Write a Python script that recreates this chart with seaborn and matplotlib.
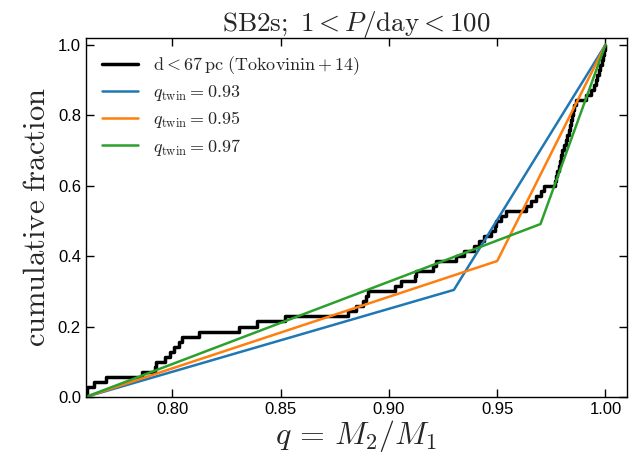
import matplotlib
matplotlib.use('Agg')
import matplotlib.pyplot as plt
import seaborn as sns

# observed mass ratios (read from the empirical CDF staircase)
q_obs = [0.7605, 0.7607, 0.7637, 0.7691, 0.7861, 0.7920, 0.7922, 0.7965, 0.7987, 0.8007,
         0.8030, 0.8045, 0.8121, 0.8309, 0.8389, 0.8519, 0.8810, 0.8846, 0.8880, 0.8892,
         0.8901, 0.9030, 0.9055, 0.9120, 0.9124, 0.9202, 0.9217, 0.9309, 0.9345, 0.9393,
         0.9416, 0.9439, 0.9470, 0.9491, 0.9494, 0.9516, 0.9539, 0.9633, 0.9654, 0.9679,
         0.9702, 0.9716, 0.9766, 0.9773, 0.9778, 0.9785, 0.9789, 0.9794, 0.9801, 0.9808,
         0.9817, 0.9824, 0.9831, 0.9838, 0.9842, 0.9847, 0.9851, 0.9856, 0.9863, 0.9908,
         0.9931, 0.9946, 0.9955, 0.9962, 0.9969, 0.9977, 0.9983, 0.9987, 0.9992, 1.0000]

# model CDFs: start, kink at q_twin, end
q_start = 0.76
q_twin = [0.93, 0.95, 0.97]
f_twin = [0.304, 0.386, 0.491]
q_end = 1.0
model_labels = [r'$q_{\rm twin} = 0.93$', r'$q_{\rm twin} = 0.95$', r'$q_{\rm twin} = 0.97$']
model_colors = ['#1f77b4', '#ff7f0e', '#2ca02c']

x_ticks = [0.80, 0.85, 0.90, 0.95, 1.00]
y_ticks = [0.0, 0.2, 0.4, 0.6, 0.8, 1.0]

sns.set_style('ticks')
plt.rcParams['font.family'] = ['Liberation Sans', 'DejaVu Sans']
plt.rcParams['mathtext.fontset'] = 'cm'

fig, ax = plt.subplots(figsize=(6.36, 4.61), dpi=100)
fig.subplots_adjust(left=0.135, right=0.986, bottom=0.139, top=0.918)

sns.ecdfplot(x=q_obs, ax=ax, color='k', lw=2.5,
             label=r'$\rm d < 67\,pc\ (Tokovinin+14)$')
for qt, ft, lab, c in zip(q_twin, f_twin, model_labels, model_colors):
    sns.lineplot(x=[q_start, qt, q_end], y=[0.0, ft, 1.0], ax=ax, color=c,
                 lw=1.8, label=lab, sort=False)

ax.set_xlim(0.76, 1.01)
ax.set_ylim(0, 1.02)
ax.set_xticks(x_ticks)
ax.set_yticks(y_ticks)
ax.tick_params(direction='in', top=True, right=True, length=6, width=1,
               labelsize=12, colors='k')
for s in ax.spines.values():
    s.set_color('k')
    s.set_linewidth(1.0)

ax.set_xlabel(r'$q\,=\,M_2/M_1$', fontsize=23, labelpad=1)
ax.set_ylabel(r'$\rm cumulative\ fraction$', fontsize=22, labelpad=4)
ax.set_title(r'${\rm SB2s;}\ 1 < P/{\rm day} < 100$', fontsize=19.5, pad=5)
ax.legend(loc='upper left', frameon=False, fontsize=13, labelspacing=0.35)

fig.savefig('out.png', dpi=100)
